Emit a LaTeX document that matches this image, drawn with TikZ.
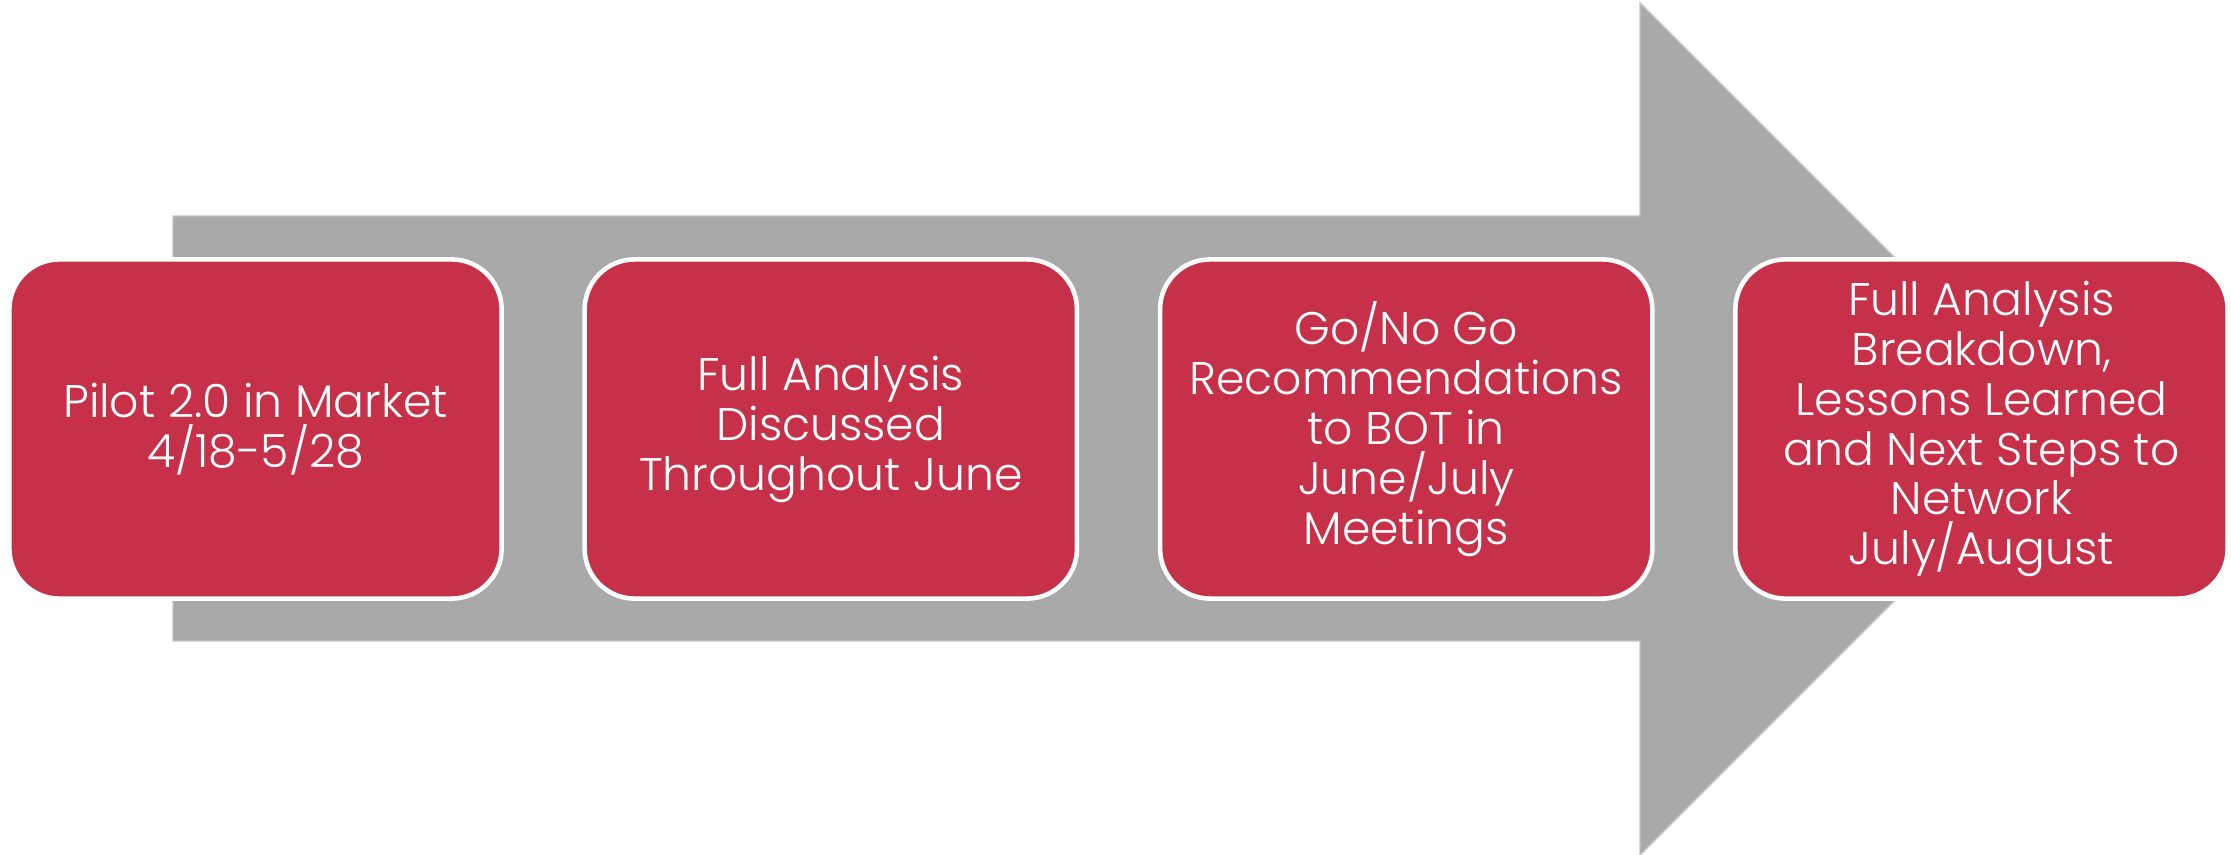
\documentclass[tikz,border=0pt]{standalone}
\usepackage{fontspec}
\setmainfont{Poppins}[UprightFont=* Light]
\definecolor{stepred}{RGB}{199,48,73}
\definecolor{arrowgray}{RGB}{169,169,169}
\definecolor{arrowedge}{RGB}{196,196,196}
\begin{document}
\begin{tikzpicture}[x=0.01cm,y=-0.01cm,
  stagebox/.style={draw=white, line width=1.3pt, fill=stepred,
    rounded corners=0.5cm, minimum width=4.92cm, minimum height=3.39cm,
    text=white, align=center, inner sep=0pt,
    font=\fontsize{13}{14.2}\selectfont}]
  \useasboundingbox (0,0) rectangle (2231,854);
  % large background arrow
  \draw[fill=arrowgray, draw=arrowedge, line width=0.4pt]
    (173,216) -- (1640,216) -- (1640,3) -- (2066,429) -- (1640,855)
    -- (1640,641) -- (173,641) -- cycle;
  % process stages
  \node[stagebox] (s1) at (255.5,429) {Pilot 2.0 in Market\\4/18-5/28};
  \node[stagebox] (s2) at (830.8,429) {Full Analysis\\Discussed\\Throughout June};
  \node[stagebox] (s3) at (1406.2,429) {Go/No Go\\Recommendations\\to BOT in\\June/July\\Meetings};
  \node[stagebox] (s4) at (1981.5,429) {Full Analysis\\Breakdown,\\Lessons Learned\\and Next Steps to\\Network\\July/August};
\end{tikzpicture}
\end{document}
